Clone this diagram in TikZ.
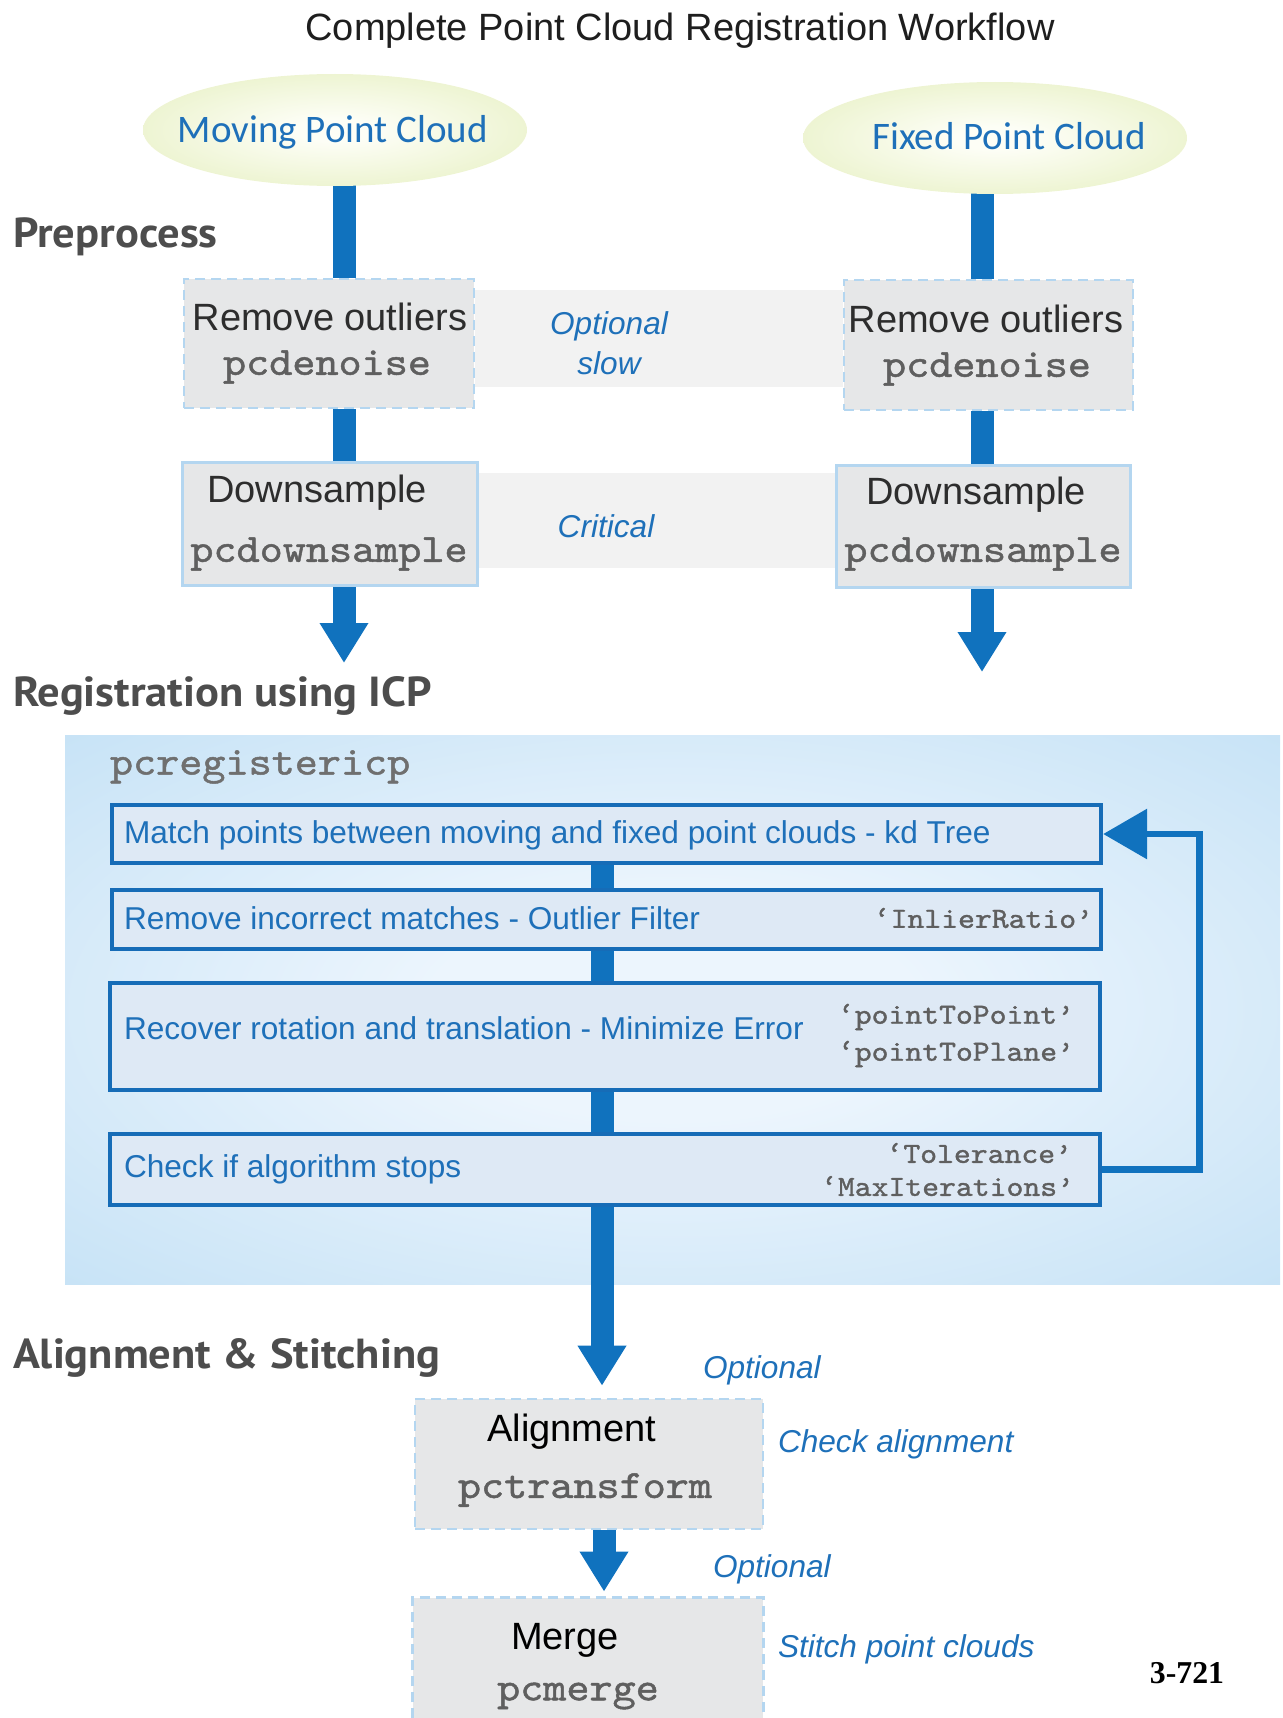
\documentclass[tikz,border=0pt]{standalone}
\usepackage{fontspec}
\setmainfont{Liberation Sans}
\newfontfamily\monof[Extension=.otf,FakeStretch=1.1,FakeBold=1.2]{lmmono10-regular}
\newfontfamily\ellf{Carlito}
\newfontfamily\headf[FakeStretch=1.06]{PT Sans}
\newfontfamily\pagef{Liberation Serif}
\usetikzlibrary{shapes.geometric,arrows.meta}
\definecolor{barblue}{RGB}{16,114,190}
\definecolor{txtblue}{RGB}{30,112,185}
\definecolor{boxgray}{RGB}{230,231,232}
\definecolor{dashblue}{RGB}{180,214,240}
\definecolor{bandgray}{RGB}{242,242,242}
\definecolor{hdrgray}{RGB}{77,77,77}
\definecolor{monogray}{RGB}{95,95,95}
\definecolor{boxtextgray}{RGB}{45,45,45}
\definecolor{titlegray}{RGB}{30,30,30}
\definecolor{icpfill}{RGB}{222,233,245}
\definecolor{icpborder}{RGB}{22,108,183}
\definecolor{pout}{RGB}{187,221,244}
\definecolor{pin}{RGB}{236,245,253}
\definecolor{ellout}{RGB}{226,237,184}
\definecolor{ellin}{RGB}{253,254,246}
\pgfdeclareradialshading{ellshade}{\pgfpoint{0bp}{0bp}}{color(0bp)=(ellin); color(5bp)=(ellin); color(40bp)=(ellout); color(72bp)=(ellout)}
\pgfdeclareradialshading{panelshade}{\pgfpoint{0bp}{0bp}}{color(0bp)=(pin); color(10bp)=(pin); color(44bp)=(pout); color(72bp)=(pout)}
\pgfdeclarelayer{bg}
\pgfsetlayers{bg,main}
\begin{document}
\begin{tikzpicture}[x=0.5pt,y=-0.5pt,
  txt/.style={inner sep=0pt,outer sep=0pt},
  titletxt/.style={txt,font=\fontsize{19}{22}\selectfont,text=titlegray},
  hdr/.style={txt,anchor=west,font=\headf\bfseries\fontsize{21}{25}\selectfont,text=hdrgray},
  cloud/.style={ellipse,inner sep=0pt,minimum width=192pt,minimum height=56pt,shading=ellshade},
  cloudtxt/.style={txt,font=\ellf\fontsize{19.5}{23}\selectfont,text=txtblue},
  dashbox/.style={inner sep=0pt,fill=boxgray,draw=dashblue,line width=1.3pt,dash pattern=on 5pt off 3pt},
  solidbox/.style={inner sep=0pt,fill=boxgray,draw=dashblue,line width=1.5pt},
  boxtxt/.style={txt,font=\fontsize{19}{23}\selectfont,text=boxtextgray},
  monotxt/.style={txt,font=\monof\fontsize{20}{23}\selectfont,text=monogray},
  note/.style={txt,font=\itshape\fontsize{15.8}{19}\selectfont,text=txtblue},
  band/.style={fill=bandgray},
  icpbox/.style={inner sep=0pt,fill=icpfill,draw=icpborder,line width=2.2pt},
  icptxt/.style={txt,anchor=west,font=\fontsize{15.8}{19}\selectfont,text=txtblue},
  param/.style={txt,anchor=east,font=\monof\fontsize{14.6}{17}\selectfont,text=monogray},
  bar/.style={draw=barblue,line width=11.5pt},
  bararrow/.style={bar,-{Triangle[width=23pt,length=20pt]}},
  loopline/.style={draw=barblue,line width=3.3pt,-{Triangle[width=24.5pt,length=22pt]}}
]
\useasboundingbox (0,0) rectangle (1282,1718);

% title and section headers
\node[titletxt] (title) at (680,31) {Complete Point Cloud Registration Workflow};
\node[hdr] (hpre) at (13,237) {Preprocess};
\node[hdr] (hicp) at (13,696) {Registration using ICP};
\node[hdr] (hali) at (13,1358) {Alignment \& Stitching};

% column coordinates
\coordinate (colL) at (344,0);
\coordinate (colR) at (982,0);
\coordinate (colM) at (602,0);
\coordinate (colA) at (604,0);
\coordinate (tipL) at (344,663);
\coordinate (tipR) at (982,672);

% clouds
\node[cloud] (mov) at (335,130) {};
\node[cloud] (fix) at (995,138) {};
\node[cloudtxt] (movt) at (333,132) {Moving Point Cloud};
\node[cloudtxt] (fixt) at (1009,136) {Fixed Point Cloud};

% preprocess boxes
\node[dashbox,minimum width=145pt,minimum height=64.5pt] (ro1) at (329,343.5) {};
\node[dashbox,minimum width=144.5pt,minimum height=65pt] (ro2) at (988.5,345) {};
\node[solidbox,minimum width=147.5pt,minimum height=61.5pt] (ds1) at (329.5,523.5) {};
\node[solidbox,minimum width=147pt,minimum height=61pt] (ds2) at (983,526) {};
\node[boxtxt] (ro1a) at (330,317) {Remove outliers};
\node[monotxt] (ro1b) at (327,367) {pcdenoise};
\node[boxtxt] (ro2a) at (986,319) {Remove outliers};
\node[monotxt] (ro2b) at (987,369) {pcdenoise};
\node[boxtxt] (ds1a) at (317,493) {Downsample};
\node[monotxt] (ds1b) at (329,554) {pcdownsample};
\node[boxtxt] (ds2a) at (976,495) {Downsample};
\node[monotxt] (ds2b) at (983,554) {pcdownsample};
\node[note] (opt1) at (609,326) {Optional};
\node[note] (slow) at (609,363) {slow};
\node[note] (crit) at (606,526) {Critical};

% ICP boxes
\node[txt,anchor=west,font=\monof\fontsize{20}{23}\selectfont,text=monogray!90!white] (icpname) at (110,767) {pcregistericp};
\node[icpbox,minimum width=494.5pt,minimum height=29pt] (b1) at (606.5,834) {};
\node[icpbox,minimum width=494.5pt,minimum height=29.5pt] (b2) at (606.5,919.5) {};
\node[icpbox,minimum width=495pt,minimum height=53.5pt] (b3) at (605,1036.5) {};
\node[icpbox,minimum width=495pt,minimum height=35.5pt] (b4) at (605,1169.5) {};
\node[icptxt] (b1t) at (124,835) {Match points between moving and fixed point clouds - kd Tree};
\node[icptxt] (b2t) at (124,918) {Remove incorrect matches - Outlier Filter};
\node[icptxt] (b3t) at (124,1028) {Recover rotation and translation - Minimize Error};
\node[icptxt] (b4t) at (124,1169) {Check if algorithm stops};
\node[param] (p1) at (1093,918) {‘InlierRatio’};
\node[param] (p2) at (1074,1017) {‘pointToPoint’};
\node[param] (p3) at (1074,1054) {‘pointToPlane’};
\node[param] (p4) at (1072,1153) {‘Tolerance’};
\node[param] (p5) at (1074,1186) {‘MaxIterations’};

% alignment & merge
\node[dashbox,minimum width=174pt,minimum height=65pt] (al) at (589,1464) {};
\node[boxtxt,text=black] (alt) at (572,1432) {Alignment};
\node[monotxt] (alm) at (585,1490) {pctransform};
\node[inner sep=0pt,fill=boxgray,minimum width=175pt,minimum height=60pt] (mg) at (588,1658) {};
\draw[draw=dashblue,line width=1.3pt,dash pattern=on 5pt off 3pt] (mg.south west) -- (mg.north west) -- (mg.north east) -- (mg.south east);
\node[boxtxt,text=black] (mgt) at (565,1640) {Merge};
\node[monotxt] (mgm) at (578,1696) {pcmerge};
\node[note,anchor=west] (opt2) at (703,1370) {Optional};
\node[note,anchor=west] (chk) at (778,1444) {Check alignment};
\node[note,anchor=west] (opt3) at (713,1569) {Optional};
\node[note,anchor=west] (sti) at (778,1649) {Stitch point clouds};
\node[txt,font=\pagef\bfseries\fontsize{15.9}{19}\selectfont] (pg) at (1187,1673) {3-721};

\begin{pgfonlayer}{bg}
  \fill[shading=panelshade] (65,735) rectangle (1280,1284);
  \fill[band] (ro1.east |- 0,290) rectangle (ro2.west |- 0,387);
  \fill[band] (ds1.east |- 0,473) rectangle (ds2.west |- 0,568);
  \draw[bar] (mov.center -| colL) -- (ro1.north -| colL);
  \draw[bar] (ro1.south -| colL) -- (ds1.north -| colL);
  \draw[bararrow] (ds1.south -| colL) -- (tipL);
  \draw[bar] (fix.center -| colR) -- (ro2.north -| colR);
  \draw[bar] (ro2.south -| colR) -- (ds2.north -| colR);
  \draw[bararrow] (ds2.south -| colR) -- (tipR);
  \draw[bar] (b1.south -| colM) -- (b2.north -| colM);
  \draw[bar] (b2.south -| colM) -- (b3.north -| colM);
  \draw[bar] (b3.south -| colM) -- (b4.north -| colM);
  \draw[bararrow,shorten >=6pt] (b4.south -| colM) -- (al.north -| colM);
  \draw[bararrow,shorten >=3pt] (al.south -| colA) -- (mg.north -| colA);
\end{pgfonlayer}
\draw[loopline] (b4.east) -- ++(97,0) |- (b1.east);
\end{tikzpicture}
\end{document}
